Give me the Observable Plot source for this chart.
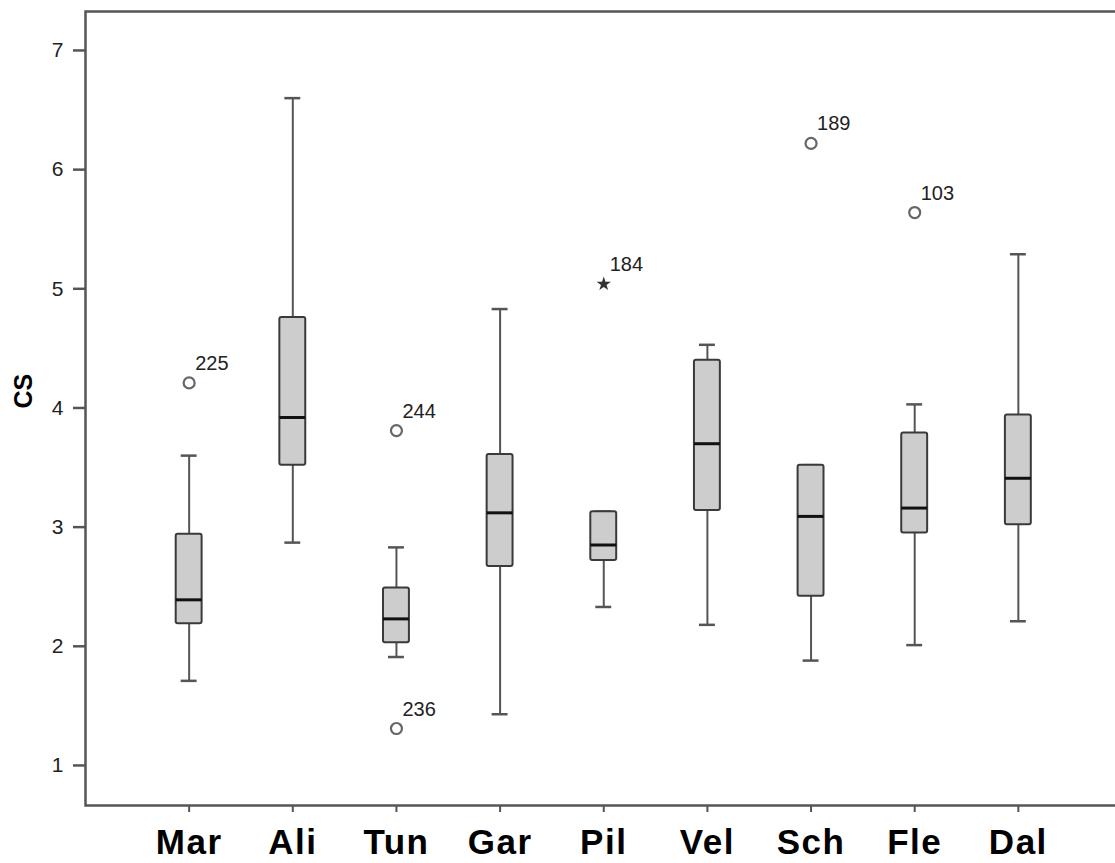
<!DOCTYPE html>
<html>
<head>
<meta charset="utf-8">
<script src="https://cdn.jsdelivr.net/npm/d3@7"></script>
<script src="https://cdn.jsdelivr.net/npm/@observablehq/plot@0.6"></script>
<style>
  html, body { margin: 0; padding: 0; background: #fff; overflow: hidden; width: 1115px; height: 863px; }
  #chart { width: 1115px; height: 863px; overflow: hidden; }
  #chart svg { display: block; max-width: none !important; width: 1125px !important; height: 863px !important; }
  g[aria-label="x-axis tick label"] text { font-weight: bold; letter-spacing: 1.5px; }
</style>
</head>
<body>
<div id="chart"></div>
<script>
// Categories (sites)
const cats = ["Mar", "Ali", "Tun", "Gar", "Pil", "Vel", "Sch", "Fle", "Dal"];
// Box-plot statistics
const whiskerLow  = [1.71, 2.87, 1.91, 1.43, 2.33, 2.18, 1.88, 2.01, 2.21];
const q1          = [2.19, 3.52, 2.03, 2.67, 2.72, 3.14, 2.42, 2.95, 3.02];
const median      = [2.39, 3.92, 2.23, 3.12, 2.85, 3.70, 3.09, 3.16, 3.41];
const q3          = [2.94, 4.76, 2.49, 3.61, 3.13, 4.40, 3.52, 3.79, 3.94];
const whiskerHigh = [3.60, 6.60, 2.83, 4.83, 3.13, 4.53, 3.52, 4.03, 5.29];

// Outliers
const outlierCat  = ["Mar", "Tun", "Tun", "Pil", "Sch", "Fle"];
const outlierVal  = [4.21, 3.81, 1.31, 5.04, 6.22, 5.64];
const outlierId   = ["225", "244", "236", "184", "189", "103"];
const outlierKind = ["circle", "circle", "circle", "star", "circle", "circle"];

// Axis
const yTicks = [1, 2, 3, 4, 5, 6, 7];
const yLabel = "CS";

const boxes = cats.map((c, i) => ({
  cat: c, lo: whiskerLow[i], q1: q1[i], med: median[i], q3: q3[i], hi: whiskerHigh[i]
}));
const outliers = outlierCat.map((c, i) => ({
  cat: c, val: outlierVal[i], id: outlierId[i], kind: outlierKind[i]
}));

const font = "'Liberation Sans', Arial, Helvetica, sans-serif";

const chart = Plot.plot({
  width: 1125,
  height: 863,
  marginLeft: 85,
  marginRight: 3.5,
  marginTop: 11,
  marginBottom: 58,
  style: { fontFamily: font, background: "white", overflow: "visible" },
  x: { type: "band", domain: cats, paddingInner: 0.75, paddingOuter: 0.875, round: false, label: null },
  y: { domain: [0.664, 7.327], label: null },
  marks: [
    // whiskers
    Plot.ruleX(boxes, { x: "cat", y1: "lo", y2: "hi", stroke: "#555", strokeWidth: 2 }),
    Plot.tickY(boxes, { x: "cat", y: "lo", stroke: "#555", strokeWidth: 2.5, insetLeft: 5, insetRight: 5 }),
    Plot.tickY(boxes, { x: "cat", y: "hi", stroke: "#555", strokeWidth: 2.5, insetLeft: 5, insetRight: 5 }),
    // boxes
    Plot.barY(boxes, { x: "cat", y1: "q1", y2: "q3", fill: "#cdcdcd", stroke: "#3a3a3a", strokeWidth: 2, rx: 2 }),
    // medians
    Plot.tickY(boxes, { x: "cat", y: "med", stroke: "#111", strokeWidth: 3 }),
    // outliers
    Plot.dot(outliers.filter(d => d.kind === "circle"), { x: "cat", y: "val", r: 5.5, fill: "white", stroke: "#666", strokeWidth: 2.2 }),
    Plot.dot(outliers.filter(d => d.kind === "star"), { x: "cat", y: "val", r: 4.5, symbol: "star", fill: "#333", stroke: "none" }),
    Plot.text(outliers, { x: "cat", y: "val", text: "id", dx: 6, dy: -13, textAnchor: "start", lineAnchor: "bottom", fontSize: 20, fill: "#222" }),
    // frame & axes
    Plot.frame({ stroke: "#555", strokeWidth: 2.5 }),
    Plot.axisY({ ticks: yTicks, tickFormat: d3.format("d"), tickSize: 12, tickPadding: 10, fontSize: 21, stroke: "#555", strokeWidth: 2.5, fill: "#222", label: null }),
    Plot.axisX({ tickSize: 7, tickPadding: 17, fontSize: 35, fontWeight: "bold", fill: "#000", stroke: "#555", strokeWidth: 2, label: null }),
    Plot.text([yLabel], { frameAnchor: "left", dx: -62, rotate: -90, fontWeight: "bold", fontSize: 25, fill: "#000" })
  ]
});

document.getElementById("chart").appendChild(chart);
</script>
</body>
</html>
